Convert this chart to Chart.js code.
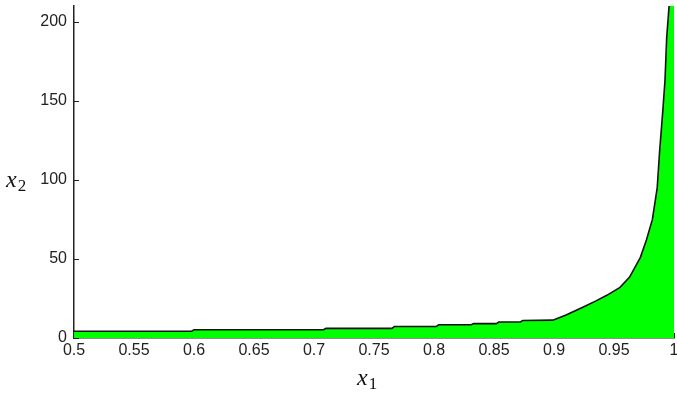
<!DOCTYPE html>
<html>
<head>
<meta charset="utf-8">
<script src="https://cdn.jsdelivr.net/npm/chart.js@4/dist/chart.umd.min.js"></script>
<style>
  html, body { margin: 0; padding: 0; background: #fff; }
  #wrap { width: 677px; height: 400px; position: relative; }
</style>
</head>
<body>
<div id="wrap"><canvas id="chart-area"></canvas></div>
<script>
// values
const x1Values = [0.5, 0.598, 0.6, 0.708, 0.71, 0.765, 0.767, 0.802, 0.804, 0.831, 0.833, 0.852, 0.854, 0.872, 0.874, 0.899,
  0.91, 0.924, 0.935, 0.944, 0.955, 0.963, 0.972, 0.977, 0.982, 0.986, 0.988, 0.9906, 0.9925, 0.9939, 0.9958, 1.0];
const x2Values = [4.3, 4.3, 5.2, 5.2, 6.1, 6.1, 7.3, 7.3, 8.4, 8.4, 9.1, 9.1, 10.1, 10.1, 11.1, 11.3,
  14.5, 19.5, 23.5, 27, 32, 38.5, 51, 62, 75, 95, 118, 143, 163, 190, 209, 260];
const xTicks = [0.5, 0.55, 0.6, 0.65, 0.7, 0.75, 0.8, 0.85, 0.9, 0.95, 1];
const yTicks = [0, 50, 100, 150, 200];

const tickFont = { family: 'Liberation Sans', size: 16 };

// x1 / x2 axis titles and the small inward ticks
const axisExtras = {
  id: 'axisExtras',
  beforeDatasetsDraw(chart) {
    const ctx = chart.ctx;
    const { x, y } = chart.scales;
    const area = chart.chartArea;
    ctx.save();
    ctx.strokeStyle = '#222';
    ctx.lineWidth = 1;
    yTicks.forEach(v => {
      const py = Math.round(y.getPixelForValue(v)) + 0.5;
      ctx.beginPath();
      ctx.moveTo(area.left, py);
      ctx.lineTo(area.left + 5, py);
      ctx.stroke();
    });
    xTicks.forEach(v => {
      const px = Math.round(x.getPixelForValue(v)) + 0.5;
      ctx.beginPath();
      ctx.moveTo(px, area.bottom);
      ctx.lineTo(px, area.bottom - 5);
      ctx.stroke();
    });
    ctx.restore();
  },
  afterDraw(chart) {
    const ctx = chart.ctx;
    ctx.save();
    ctx.fillStyle = '#111';
    ctx.textBaseline = 'alphabetic';
    ctx.textAlign = 'left';
    function mathLabel(sub, left, base) {
      ctx.font = 'italic 24px "Liberation Serif"';
      ctx.fillText('x', left, base);
      const w = ctx.measureText('x').width;
      ctx.font = '17px "Liberation Serif"';
      ctx.fillText(sub, left + w + 1, base + 4);
    }
    mathLabel('1', 357, 385);
    mathLabel('2', 6, 187);
    ctx.restore();
  }
};

const data = {
  datasets: [{
    data: x1Values.map((v, i) => ({ x: v, y: x2Values[i] })),
    fill: 'origin',
    backgroundColor: '#00ff00',
    borderColor: '#111',
    borderWidth: 1.6,
    pointRadius: 0,
    tension: 0
  }]
};

const config = {
  type: 'line',
  data: data,
  options: {
    responsive: true,
    maintainAspectRatio: false,
    animation: false,
    layout: { padding: { top: 6, right: 3, left: 0, bottom: 0 } },
    plugins: {
      legend: { display: false },
      tooltip: { enabled: false }
    },
    scales: {
      x: {
        type: 'linear',
        min: 0.5,
        max: 1,
        afterBuildTicks: s => { s.ticks = xTicks.map(v => ({ value: v })); },
        afterFit: s => { s.height = 62; s.paddingLeft = 0; s.paddingRight = 0; },
        ticks: { color: '#222', font: tickFont, padding: 3, maxRotation: 0, autoSkip: false,
          callback: v => String(v) },
        grid: { display: false, drawTicks: false },
        border: { display: true, color: '#222', width: 1.5 }
      },
      y: {
        min: 0,
        max: 210,
        afterBuildTicks: s => { s.ticks = yTicks.map(v => ({ value: v })); },
        afterFit: s => { s.width = 74; s.paddingTop = 0; s.paddingBottom = 0; },
        ticks: { color: '#222', font: tickFont, padding: 7 },
        grid: { display: false, drawTicks: false },
        border: { display: true, color: '#222', width: 1.5 }
      }
    }
  },
  plugins: [axisExtras]
};

const chartX = new Chart(document.getElementById('chart-area'), config);
</script>
</body>
</html>
